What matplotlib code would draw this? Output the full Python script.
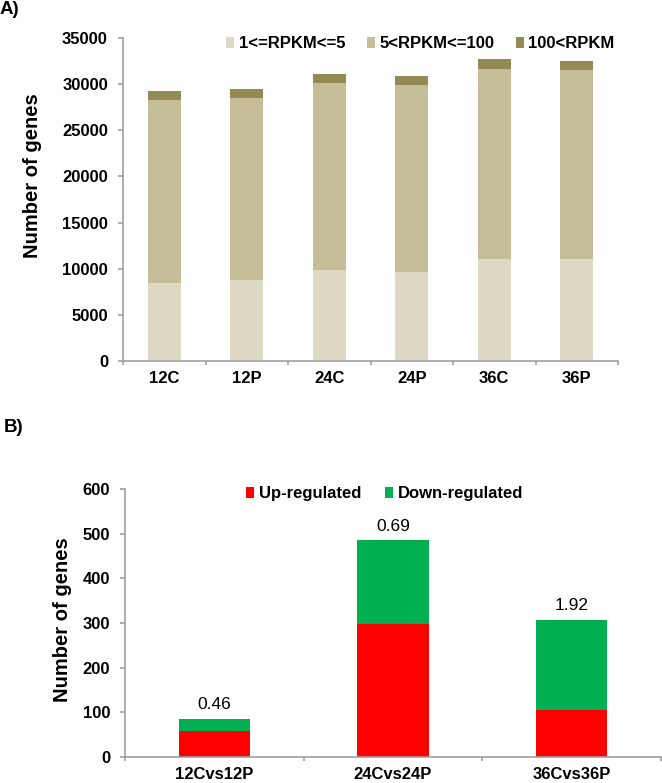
import numpy as np
import matplotlib
matplotlib.use('Agg')
import matplotlib.pyplot as plt

# expression classes per sample (panel A)
samples = ['12C', '12P', '24C', '24P', '36C', '36P']
low = [8500, 8800, 9870, 9650, 11100, 11000]
mid = [19800, 19700, 20300, 20250, 20570, 20530]
high = [980, 1000, 950, 1000, 1010, 980]
classes = ['1<=RPKM<=5', '5<RPKM<=100', '100<RPKM']

# DEGs per comparison (panel B)
comparisons = ['12Cvs12P', '24Cvs24P', '36Cvs36P']
up = [58, 297, 105]
down = [27, 188, 202]
ratios = ['0.46', '0.69', '1.92']

plt.rcParams['font.family'] = ['Liberation Sans', 'DejaVu Sans']

W, H = 662, 783
fs = 12
axcol = '#a0a0a0'


def px(x, y):
    # pixel position (from top-left) -> figure fraction
    return x / W, 1 - y / H


fig = plt.figure(figsize=(W / 100, H / 100), dpi=100)
axA = fig.add_axes([123 / W, 1 - 361 / H, (618 - 123) / W, (361 - 38) / H])
axB = fig.add_axes([125 / W, 1 - 757 / H, (661 - 125) / W, (757 - 489) / H])


def style(ax, labels):
    n = len(labels)
    for s in ['top', 'right']:
        ax.spines[s].set_visible(False)
    for s in ['left', 'bottom']:
        ax.spines[s].set_color(axcol)
        ax.spines[s].set_linewidth(1.2)
    ax.set_xlim(-0.5, n - 0.5)
    ax.set_xticks(np.arange(n + 1) - 0.5)
    ax.set_xticklabels([])
    ax.set_xticks(np.arange(n), minor=True)
    ax.set_xticklabels(labels, minor=True, fontweight='bold', fontsize=fs)
    ax.tick_params(axis='x', which='major', length=3, width=1.2, color=axcol, direction='out')
    ax.tick_params(axis='x', which='minor', length=0, pad=7)
    ax.tick_params(axis='y', length=3.5, width=1.2, color=axcol, direction='out', labelsize=fs, pad=7.3)
    for lab in ax.get_yticklabels():
        lab.set_fontweight('bold')


# panel A
x = np.arange(len(samples))
w = 0.4
axA.bar(x, low, w, color='#DDD9C3', label=classes[0])
axA.bar(x, mid, w, bottom=low, color='#C4BD97', label=classes[1])
axA.bar(x, high, w, bottom=np.add(low, mid), color='#948A54', label=classes[2])
axA.set_ylim(0, 35000)
axA.set_yticks(np.arange(0, 35001, 5000))
style(axA, samples)
axA.legend(loc='center left', bbox_to_anchor=px(226, 44), bbox_transform=fig.transFigure,
           ncol=3, frameon=False, borderpad=0, borderaxespad=0,
           prop={'size': fs, 'weight': 'bold'}, handlelength=0.5, handleheight=0.6,
           handletextpad=0.25, columnspacing=1.3)

# panel B
xb = np.arange(len(comparisons))
axB.bar(xb, up, w, color='#FF0000', label='Up-regulated')
axB.bar(xb, down, w, bottom=up, color='#00B050', label='Down-regulated')
for i in range(len(comparisons)):
    axB.annotate(ratios[i], (xb[i], up[i] + down[i]), xytext=(0, 7), textcoords='offset points',
                 ha='center', va='baseline', fontsize=12.5)
axB.set_ylim(0, 600)
axB.set_yticks(np.arange(0, 601, 100))
style(axB, comparisons)
axB.legend(loc='center left', bbox_to_anchor=px(246, 494), bbox_transform=fig.transFigure,
           ncol=2, frameon=False, borderpad=0, borderaxespad=0,
           prop={'size': fs, 'weight': 'bold'}, handlelength=0.5, handleheight=0.6,
           handletextpad=0.25, columnspacing=1.45)

# axis titles
fig.text(*px(33, 176), 'Number of genes', rotation=90, ha='center', va='center',
         fontsize=14.5, fontweight='bold')
fig.text(*px(62, 620), 'Number of genes', rotation=90, ha='center', va='center',
         fontsize=14.5, fontweight='bold')

fig.text(*px(0, 10), 'A)', fontsize=13.5, fontweight='bold', va='center', ha='left')
fig.text(*px(4, 428), 'B)', fontsize=13.5, fontweight='bold', va='center', ha='left')

fig.savefig('out.png', dpi=100)
